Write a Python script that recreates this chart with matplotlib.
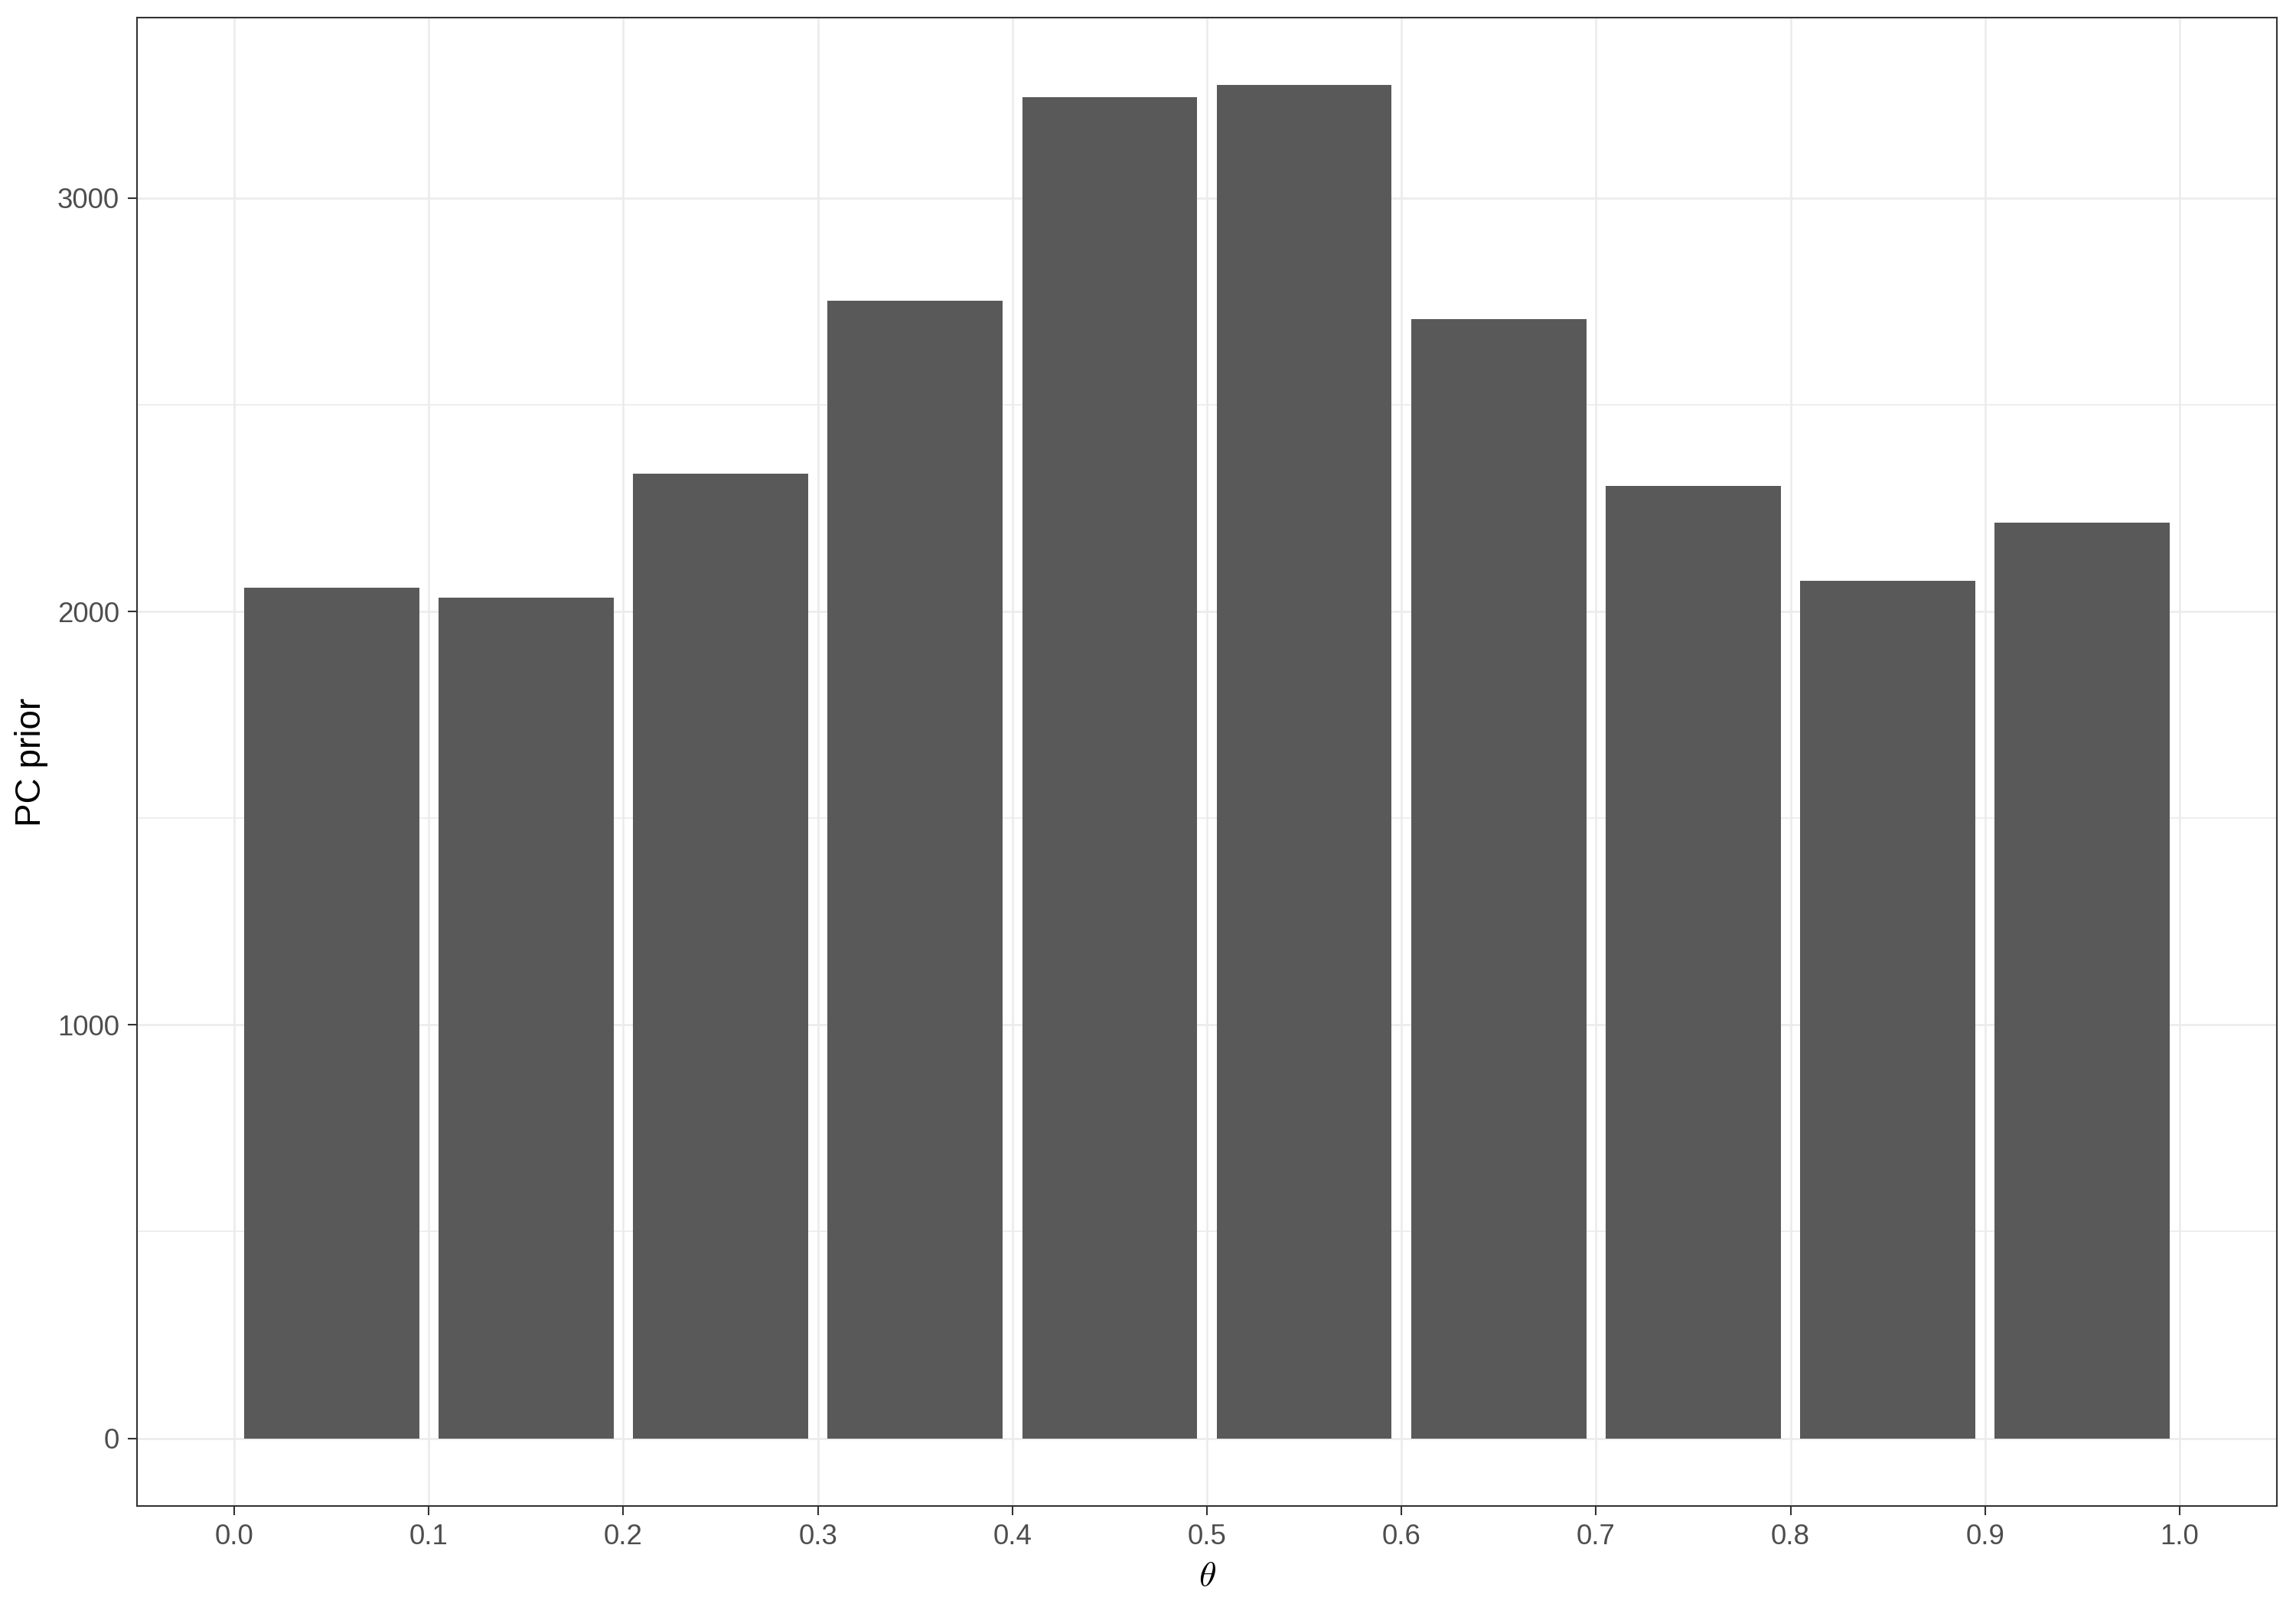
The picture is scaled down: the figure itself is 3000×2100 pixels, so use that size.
import matplotlib
matplotlib.use("Agg")
import matplotlib.pyplot as plt
import numpy as np

# data
bin_centers = [0.05, 0.15, 0.25, 0.35, 0.45, 0.55, 0.65, 0.75, 0.85, 0.95]
counts = [2057, 2034, 2333, 2751, 3245, 3273, 2708, 2303, 2074, 2215]
x_ticks = [0.0, 0.1, 0.2, 0.3, 0.4, 0.5, 0.6, 0.7, 0.8, 0.9, 1.0]
x_tick_labels = ["0.0", "0.1", "0.2", "0.3", "0.4", "0.5", "0.6", "0.7", "0.8", "0.9", "1.0"]
y_ticks = [0, 1000, 2000, 3000]
y_minor = [500, 1500, 2500]

plt.rcParams['font.family'] = ['Liberation Sans', 'DejaVu Sans']
plt.rcParams['mathtext.fontset'] = 'cm'

fig = plt.figure(figsize=(10, 7), dpi=300)
ax = fig.add_axes([179/3000, 1 - 1968/2100, (2975-179)/3000, (1968-23)/2100])

ax.bar(bin_centers, counts, width=0.09, color='#595959', zorder=3, linewidth=0)

ymax = max(counts)
ax.set_ylim(-0.05*ymax, 1.05*ymax)
ax.set_xlim(-0.05, 1.05)

ax.set_xticks(x_ticks)
ax.set_xticklabels(x_tick_labels)
ax.set_yticks(y_ticks)
ax.set_yticks(y_minor, minor=True)
ax.tick_params(axis='y', which='minor', length=0)

ax.grid(True, which='major', color='#EBEBEB', linewidth=0.6, zorder=0)
ax.grid(True, which='minor', axis='y', color='#EBEBEB', linewidth=0.4, zorder=0)
ax.set_axisbelow(True)

for s in ax.spines.values():
    s.set_color('#333333')
    s.set_linewidth(0.5)

ax.tick_params(axis='both', which='major', length=2.9, width=0.5, color='#333333',
               labelsize=8.8, labelcolor='#4D4D4D', pad=2.6)

ax.set_xlabel(r'$\theta$', fontsize=11, color='black', labelpad=3)
ax.set_ylabel('PC prior', fontsize=11, color='black', labelpad=2.8)

fig.savefig('out.png', dpi=300, facecolor='white')
